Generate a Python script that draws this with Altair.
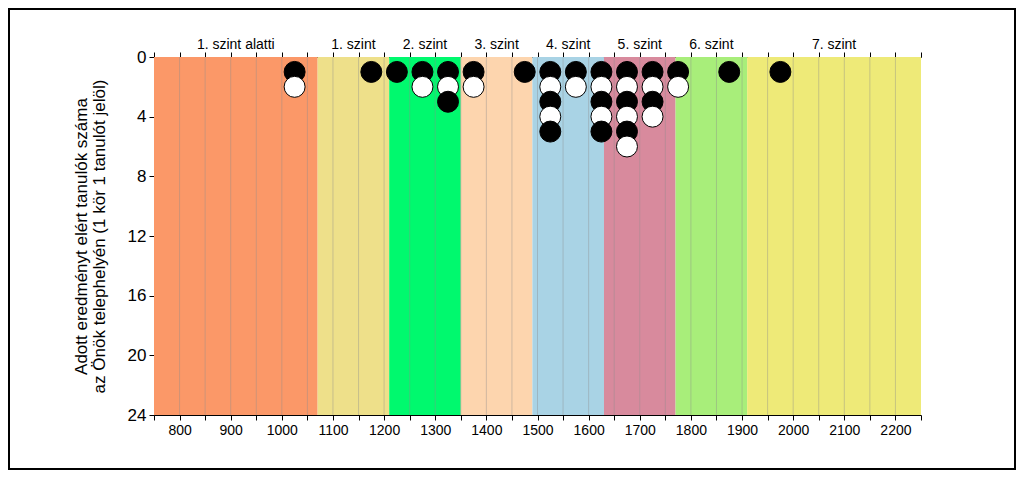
import altair as alt
import pandas as pd

# Level bands
band_names = ["1. szint alatti", "1. szint", "2. szint", "3. szint", "4. szint", "5. szint", "6. szint", "7. szint"]
band_start = [750, 1070, 1210, 1350, 1490, 1630, 1770, 1910]
band_end = [1070, 1210, 1350, 1490, 1630, 1770, 1910, 2250]
band_colors = ["#FB9868", "#EEE08A", "#00F96E", "#FDD5AE", "#A9D3E5", "#D88A9D", "#A8EE7A", "#EEEA78"]

# Student circles: score column and stacked fills (B = black, W = white), bottom-up order
score_cols = [1025, 1175, 1225, 1275, 1325, 1375, 1475, 1525, 1575, 1625, 1675, 1725, 1775, 1875, 1975]
col_fills = ["BW", "B", "B", "BW", "BWB", "BW", "B", "BWBWB", "BW", "BWBWB", "BWBWBW", "BWBW", "BW", "B", "B"]

grid_vals = [800, 850, 900, 950, 1000, 1050, 1100, 1150, 1200, 1250, 1300, 1350, 1400, 1450,
             1500, 1550, 1600, 1650, 1700, 1750, 1800, 1850, 1900, 1950, 2000, 2050, 2100, 2150, 2200]
x_tick_vals = [750] + grid_vals + [2250]
y_tick_vals = [0, 4, 8, 12, 16, 20, 24]

FONT = "Liberation Sans"
W, H = 767, 358
PAD = {"left": 146, "top": 49, "right": 95, "bottom": 55}

bands = pd.DataFrame({"name": band_names, "start": band_start, "end": band_end, "color": band_colors})
bands["mid"] = (bands["start"] + bands["end"]) / 2

rows = []
for sc, fills in zip(score_cols, col_fills):
    for i, f in enumerate(fills):
        rows.append({"score": sc, "n": i + 1, "fill": f})
pts = pd.DataFrame(rows)

grid = pd.DataFrame({"g": grid_vals})

xscale = alt.Scale(domain=[750, 2250], nice=False, zero=False)
yscale = alt.Scale(domain=[0, 24], reverse=True, nice=False, zero=False)

top_axis = alt.Axis(orient="top", values=x_tick_vals, labels=False, ticks=True, tickSize=5,
                    tickColor="black", domainColor="black", grid=False, title=None)
bottom_axis = alt.Axis(orient="bottom", values=x_tick_vals, format="d",
                       labelExpr="datum.value % 100 == 0 ? datum.label : ''",
                       tickSize=5, tickColor="black", domainColor="black", grid=False, title=None,
                       labelFont=FONT, labelFontSize=14, labelColor="black", labelPadding=3)
y_axis = alt.Axis(values=y_tick_vals, tickSize=5, tickColor="black", domainColor="black", grid=False,
                  labelFont=FONT, labelFontSize=17, labelColor="black", labelPadding=3,
                  title=["Adott eredményt elért tanulók száma", "az Önök telephelyén (1 kör 1 tanulót jelöl)"],
                  titleFont=FONT, titleFontSize=17, titleFontWeight="normal", titleColor="black",
                  titlePadding=19, titleLineHeight=18)

band_layer = alt.Chart(bands).mark_rect(opacity=1).encode(
    x=alt.X("start:Q", scale=xscale, axis=top_axis),
    x2="end:Q",
    y=alt.value(0),
    y2=alt.value(H),
    fill=alt.Fill("color:N", scale=None),
)

grid_layer = alt.Chart(grid).mark_rule(color="#8c8c8c", opacity=0.4, strokeWidth=1).encode(
    x=alt.X("g:Q", scale=xscale, axis=None),
    y=alt.value(0),
    y2=alt.value(H),
)

label_layer = alt.Chart(bands).mark_text(font=FONT, fontSize=14, color="black", baseline="bottom", align="center").encode(
    x=alt.X("mid:Q", scale=xscale, axis=None),
    y=alt.value(-5),
    text="name:N",
)

pts_layer = alt.Chart(pts).mark_circle(size=440, stroke="black", strokeWidth=1, opacity=1).encode(
    x=alt.X("score:Q", scale=xscale, axis=bottom_axis),
    y=alt.Y("n:Q", scale=yscale, axis=y_axis),
    fill=alt.Fill("fill:N", scale=alt.Scale(domain=["B", "W"], range=["black", "white"]), legend=None),
)

frame = alt.Chart(pd.DataFrame({"f": [1]})).mark_rect(fillOpacity=0, stroke="black", strokeWidth=2).encode(
    x=alt.value(-PAD["left"] + 1),
    x2=alt.value(W + PAD["right"] - 1),
    y=alt.value(-PAD["top"] + 1),
    y2=alt.value(H + PAD["bottom"] - 1),
)

chart = alt.layer(band_layer, grid_layer, label_layer, pts_layer, frame).resolve_axis(
    x="independent"
).properties(
    width=W, height=H, autosize="none", padding=PAD, background="white"
).configure_view(stroke=None)

chart.save("out.html", embed_options={"renderer": "svg", "actions": False})
